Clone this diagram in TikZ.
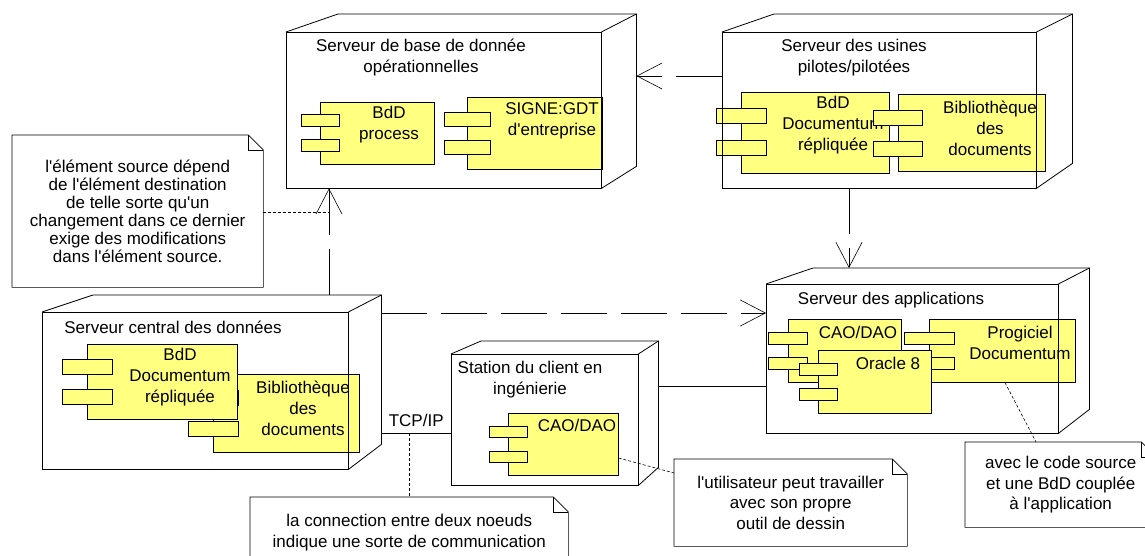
\documentclass[tikz,border=0pt]{standalone}
\usepackage{fontspec}
\setmainfont{Liberation Sans}[Ligatures=TeXOff]
\usetikzlibrary{arrows.meta,calc}

\definecolor{compyellow}{RGB}{255,255,128}

\tikzset{
  nodebox/.style={fill=white,inner sep=0pt,anchor=north west},
  nodeline/.style={line width=0.8pt},
  compbody/.style={draw,fill=compyellow,line width=0.6pt,inner sep=0pt,anchor=north west},
  comptab/.style={draw,fill=compyellow,line width=0.6pt},
  lbl/.style={align=center,inner sep=0pt,font=\fontsize{17}{21}\selectfont},
  notebox/.style={fill=white,inner sep=0pt,anchor=north west,align=center,font=\fontsize{17}{20.5}\selectfont},
  noteline/.style={line width=0.6pt},
  dep/.style={line width=0.6pt,dash pattern=on 46pt off 14pt,
    -{Straight Barb[length=25pt,width=26pt,line width=0.6pt]}},
  link/.style={line width=0.6pt},
  anchorline/.style={line width=0.6pt,dash pattern=on 3pt off 2pt},
}

% outline of a deployment node: name, left depth, right depth, rise, drop
\newcommand\depframe[5]{%
  \draw[nodeline] (#1.north west) rectangle (#1.south east);
  \draw[nodeline] (#1.north west) -- ++(#2,-#4) coordinate (#1 bl)
    -- ($(#1.north east)+(#3,-#4)$) coordinate (#1 br)
    -- ($(#1.south east)+(#3,-#5)$) coordinate (#1 bb) -- (#1.south east);
  \draw[nodeline] (#1.north east) -- (#1 br);
}
% component: name, x, y, width, height, tab width, tab height, tab offsets
\newcommand\comp[9]{%
  \node[compbody,minimum width=#4,minimum height=#5] (#1) at (#2,#3) {};
  \draw[comptab] ($(#1.north west)+(-#6/2,#8)$) rectangle ++(#6,#7);
  \draw[comptab] ($(#1.north west)+(-#6/2,#9)$) rectangle ++(#6,#7);
}
% note with folded corner: options, name, x, y, width, height, text
\newcommand\notebox[7][]{%
  \node[notebox,#1,minimum width=#5,minimum height=#6] (#2) at (#3,#4) {#7};
  \draw[noteline] (#2.north west) -- ([xshift=-15pt]#2.north east)
    -- ([yshift=-15pt]#2.north east) -- (#2.south east) -- (#2.south west) -- cycle;
  \draw[noteline] ([xshift=-15pt]#2.north east) |- ([yshift=-15pt]#2.north east);
}

\begin{document}
\begin{tikzpicture}[x=1pt,y=-1pt]
  \useasboundingbox (0,0) rectangle (1145,556);
  \clip (0,0) rectangle (1145,556);

  % Deployment nodes
  \node[nodebox,minimum width=315,minimum height=156] (srvop) at (286,32) {};
  \node[nodebox,minimum width=314,minimum height=156] (srvpil) at (722,32) {};
  \node[nodebox,minimum width=306,minimum height=157] (srvcen) at (42,312) {};
  \node[nodebox,minimum width=187,minimum height=131] (station) at (451,354) {};
  \node[nodebox,minimum width=292,minimum height=149] (srvapp) at (766,284) {};

  % Components
  \comp{bddproc}{320}{102}{114}{62}{38}{12}{12}{37}
  \node[lbl] (bddproctxt) at (389,124.5) {BdD\\process};
  \comp{signe}{467}{97}{135}{72}{46}{14}{15}{43}
  \node[lbl] (signetxt) at (552,120.5) {SIGNE:GDT\\d'entreprise};

  \comp{bddpil}{741}{92}{148}{81}{50}{15}{16}{48}
  \node[lbl] (bddpiltxt) at (833,125.5) {BdD\\Documentum\\répliquée};
  \comp{bibpil}{898}{94}{147}{77}{49}{15}{16}{47}
  \node[lbl] (bibpiltxt) at (990,128) {Bibliothèque\\des\\documents};

  \comp{bibcen}{213}{374}{146}{78}{50}{15}{16}{47}
  \node[lbl] (bibcentxt) at (303,408) {Bibliothèque\\des\\documents};
  \comp{bddcen}{87}{344}{150}{75}{50}{15}{15}{45}
  \node[lbl] (bddcentxt) at (180,377.5) {BdD\\Documentum\\répliquée};

  \comp{caoapp}{788}{319}{113}{63}{39}{12}{13}{38}
  \node[lbl] (caoapptxt) at (858,332) {CAO/DAO};
  \comp{progapp}{929}{319}{146}{63}{50}{12}{13}{38}
  \node[lbl] (progapptxt) at (1020,343) {Progiciel\\Documentum};
  \comp{oracle}{818}{350}{113}{63}{38}{12}{13}{38}
  \node[lbl] (oracletxt) at (888,363) {Oracle 8};

  \comp{caost}{508}{413}{110}{62}{38}{11}{13}{38}
  \node[lbl] (caosttxt) at (577,425) {CAO/DAO};

  % Node outlines and titles
  \depframe{srvop}{52}{35}{18}{22}
  \depframe{srvpil}{52}{36}{18}{25}
  \depframe{srvcen}{51}{33}{17}{25}
  \depframe{station}{30}{20}{13}{18}
  \depframe{srvapp}{47}{31}{16}{24}
  \node[lbl] (srvoptxt) at (421,57.5) {Serveur de base de donnée\\opérationnelles};
  \node[lbl] (srvpiltxt) at (854,57.5) {Serveur des usines\\pilotes/pilotées};
  \node[lbl] (srvcentxt) at (173,327) {Serveur central des données};
  \node[lbl] (stationtxt) at (530,379.5) {Station du client en\\ingénierie};
  \node[lbl] (srvapptxt) at (891,300) {Serveur des applications};

  % Dependencies
  \draw[dep] (srvpil.west |- 0,76) -- (srvop br |- 0,76);
  \draw[dep] (srvpil.south -| 849,0) -- (srvapp bl -| 849,0);
  \draw[dep] (srvcen bl -| 329,0) -- (srvop.south -| 329,0);
  \draw[dep] (srvcen br |- 0,313) -- (srvapp.west |- 0,313);

  % Communication links
  \draw[link] (srvcen br |- 0,433) -- (station.west |- 0,433)
    node[midway,above=6pt,lbl] (tcpip) {TCP/IP};
  \draw[link] (station br |- 0,386) -- (srvapp.west |- 0,386);

  % Notes
  \notebox[font=\fontsize{17}{18}\selectfont]{leftnote}{12}{135}{251}{152}{l'élément source dépend\\de l'élément destination\\de telle sorte qu'un\\changement dans ce dernier\\exige des modifications\\dans l'élément source.}
  \notebox{connote}{250}{497}{318}{71}{la connection entre deux noeuds\\indique une sorte de communication}
  \notebox{usernote}{674}{459}{233}{87}{l'utilisateur peut travailler\\avec son propre\\outil de dessin}
  \notebox{srcnote}{965}{442}{191}{85}{avec le code source\\et une BdD couplée\\à l'application}

  % Note anchors
  \coordinate (depln) at (329,212);
  \coordinate (tcpln) at (409,433);
  \draw[anchorline] (leftnote.east |- depln) -- (depln);
  \draw[anchorline] (tcpln) -- (connote.north -| tcpln);
  \draw[anchorline] (caost.east |- 0,458) -- (usernote.west |- 0,473);
  \draw[anchorline] (progapp.south -| 1005,0) -- (srcnote.north -| 1036,0);
\end{tikzpicture}
\end{document}
